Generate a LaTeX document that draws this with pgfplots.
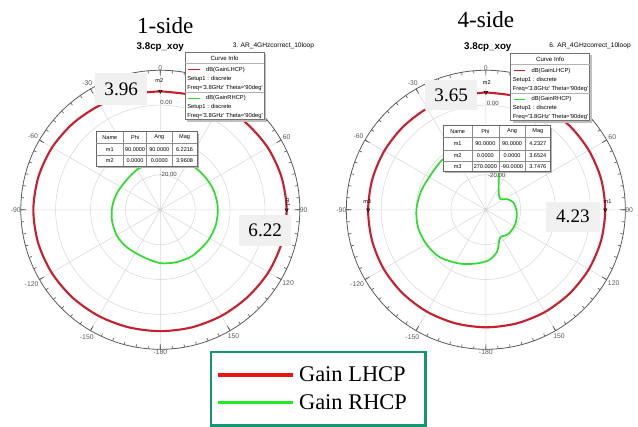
\documentclass[border=0pt]{standalone}
\usepackage{pgfplots}
\pgfplotsset{compat=1.18}
\usepgfplotslibrary{polar}
\usepackage{fontspec}
\setmainfont{Liberation Serif}
\newfontfamily\arial{Liberation Sans}
\newcommand\hf[1]{\arial\fontsize{#1}{#1}\selectfont}
\definecolor{hfssred}{RGB}{200,30,45}
\definecolor{hfssgreen}{RGB}{45,220,45}
\definecolor{legred}{RGB}{235,20,20}
\definecolor{leggreen}{RGB}{35,235,35}
\definecolor{legborder}{RGB}{20,150,115}
\definecolor{gridgray}{RGB}{215,215,215}
\definecolor{ringgray}{RGB}{90,90,90}
\definecolor{boxgray}{RGB}{240,240,240}
\pgfplotsset{hfss/.style={
  scale only axis, width=211.5pt, height=211.5pt,
  xmin=0, xmax=360, ymin=0, ymax=40,
  xtick={0,30,...,330},
  xticklabels={90,60,{},0,-30,-60,-90,-120,-150,-180,150,120},
  minor xtick={0,5,...,355},
  ytick={10,20,30}, yticklabels={},
  every y tick/.append style={draw=none},
  y axis line style={draw=none},
  grid=major,
  major grid style={gridgray, line width=0.4pt},
  axis line style={ringgray, line width=0.6pt},
  tick style={ringgray, line width=0.5pt},
  tick align=outside,
  major tick length=4pt, minor tick length=2.2pt,
  xticklabel style={font=\hf{5.2}, text=black!65, inner sep=3.8pt},
  x filter/.expression={90-x}, y filter/.expression={y+30},
}}
\newcommand\curveinfo{%
 \fill[black!25] (189,55) rectangle (269,123);
 \filldraw[fill=white, draw=black!55, line width=0.4pt] (187,53) rectangle (267,121);
 \node[font=\hf{4.6}] at (227,59) {Curve Info};
 \draw[black!30, line width=0.3pt] (187,64) -- (267,64);
 \draw[hfssred, line width=0.9pt] (190,70.5) -- (202,70.5);
 \node[font=\hf{4.4}, anchor=west] at (208,70.5) {dB(GainLHCP)};
 \node[font=\hf{4.4}, anchor=west] at (189,79.5) {Setup1 : discrete};
 \node[font=\hf{4.4}, anchor=west] at (189,88.5) {Freq=\textquotesingle 3.8GHz\textquotesingle{} Theta=\textquotesingle 90deg\textquotesingle};
 \draw[black!30, line width=0.3pt] (187,93.5) -- (267,93.5);
 \draw[hfssgreen, line width=0.9pt] (190,99.5) -- (202,99.5);
 \node[font=\hf{4.4}, anchor=west] at (208,99.5) {dB(GainRHCP)};
 \node[font=\hf{4.4}, anchor=west] at (189,108) {Setup1 : discrete};
 \node[font=\hf{4.4}, anchor=west] at (189,117) {Freq=\textquotesingle 3.8GHz\textquotesingle{} Theta=\textquotesingle 90deg\textquotesingle};
}
\begin{document}
\begin{tikzpicture}
\begin{scope}[x=0.75pt,y=-0.75pt]
\path[use as bounding box] (0,0) rectangle (638,416);
\end{scope}

% ---------- 1-side ----------
\begin{polaraxis}[hfss, at={(121.5pt,-159pt)}, anchor=center]
\addplot[hfssred, line width=1.6pt, smooth] coordinates {
(0,3.96)(15,4.1)(30,4.5)(45,5.0)(60,5.6)(75,6.0)(90,6.22)(105,6.1)(120,5.8)(135,5.4)(150,5.1)(165,4.9)(180,4.8)(195,4.9)(210,5.2)(225,5.6)(240,6.0)(255,6.3)(270,6.4)(285,6.2)(300,5.8)(315,5.2)(330,4.6)(345,4.2)(360,3.96)};
\addplot[hfssgreen, line width=1.3pt, smooth] coordinates {
(0,-15.5)(20,-15.0)(40,-14.3)(58,-14.0)(72,-13.7)(88,-13.5)(105,-13.5)(123,-13.7)(145,-13.9)(163,-14.3)(180,-14.7)(199.5,-15.6)(221.6,-15.6)(239,-15.5)(257,-15.8)(274.3,-16.2)(291.3,-16.7)(312,-17.1)(329.5,-16.7)(338.7,-16.7)(360,-15.5)};
\addplot[only marks, mark=triangle, mark size=1.5pt, mark options={rotate=180, black, line width=0.4pt}] coordinates {(0,3.9608)(90,6.2216)};
\end{polaraxis}

% ---------- 4-side ----------
\begin{polaraxis}[hfss, at={(368.25pt,-159pt)}, anchor=center]
\addplot[hfssred, line width=1.6pt, smooth] coordinates {
(0,3.65)(15,3.7)(30,3.85)(45,4.0)(60,4.1)(75,4.2)(90,4.23)(105,4.2)(120,4.1)(135,3.95)(150,3.85)(165,3.75)(180,3.7)(195,3.7)(210,3.75)(225,3.8)(240,3.85)(255,3.8)(270,3.75)(285,3.7)(300,3.65)(315,3.6)(330,3.6)(345,3.6)(360,3.65)};
\addplot[hfssgreen, line width=1.3pt, smooth] coordinates {
(0,-14.4)(10,-15.8)(17.2,-17.5)(19.9,-19.1)(23.4,-20.7)(28.4,-22.3)(35.8,-23.7)(39.6,-24.2)(54,-24.8)(63.3,-23.2)(75.4,-21.8)(94.9,-21.1)(115.7,-20.6)(136.6,-20.5)(152,-21.1)(159.2,-19.6)(165.2,-17.5)(176.6,-15.5)(190.7,-14.3)(206.4,-12.8)(224.6,-11.0)(240.4,-10.3)(255.6,-9.9)(270.6,-10.1)(286.2,-10.7)(302.8,-11.3)(319.2,-11.0)(330,-11.8)(345,-13.0)(360,-14.4)};
\addplot[only marks, mark=triangle, mark size=1.5pt, mark options={rotate=180, black, line width=0.4pt}] coordinates {(0,3.6524)(90,4.2327)(270,3.7476)};
\end{polaraxis}

\begin{scope}[x=0.75pt,y=-0.75pt, every node/.style={inner sep=0pt}]
% titles
\node[font=\fontsize{17.5}{20}\selectfont] at (167,26) {1-side};
\node[font=\fontsize{17.5}{20}\selectfont] at (491,20) {4-side};
\node[font=\hf{7.4}\bfseries] at (162,48) {3.8cp\_xoy};
\node[font=\hf{7.4}\bfseries] at (493,48) {3.8cp\_xoy};
\begin{scope}
\clip (0,0) rectangle (318,416);
\node[font=\hf{5}, anchor=west] at (235,46) {3. AR\_4GHzcorrect\_10loop};
\end{scope}
\node[font=\hf{5}, anchor=west] at (555,46) {6. AR\_4GHzcorrect\_10loop};
% radial labels
\node[font=\hf{4.6}, text=black!75] at (168,104) {0.00};
\node[font=\hf{4.6}, text=black!75] at (170,176) {-20.00};
\node[font=\hf{4.6}, text=black!75] at (498,105) {0.00};
\node[font=\hf{4.6}, text=black!75] at (502,177) {-20.00};
% marker names
\node[font=\hf{4.2}] at (161,81) {m2};
\node[font=\hf{4.2}, rotate=-90] at (291,205) {m1};
\node[font=\hf{4.2}] at (492,83) {m2};
\node[font=\hf{4.2}] at (614,204) {m1};
\node[font=\hf{4.2}] at (371,204) {m3};
% annotation boxes
\node[fill=boxgray, minimum width=39.75pt, minimum height=24pt, font=\fontsize{14.5}{16}\selectfont] at (122.5,90) {3.96};
\node[fill=boxgray, minimum width=39pt, minimum height=24pt, font=\fontsize{14.5}{16}\selectfont] at (268,233) {6.22};
\node[fill=boxgray, minimum width=39pt, minimum height=22.5pt, font=\fontsize{14.5}{16}\selectfont] at (456,96) {3.65};
\node[fill=boxgray, minimum width=40.5pt, minimum height=22.5pt, font=\fontsize{14.5}{16}\selectfont] at (579,219) {4.23};
% curve info boxes
\curveinfo
\begin{scope}[shift={(329,1)}]\curveinfo\end{scope}
% marker table left
\fill[black!30] (99,135) rectangle (201,170);
\filldraw[fill=white, draw=black!60, line width=0.4pt] (97,133) rectangle (199,168);
\draw[black!45, line width=0.3pt] (125,133)--(125,168) (148,133)--(148,168) (174,133)--(174,168) (97,145)--(199,145) (97,157)--(199,157);
\begin{scope}[every node/.append style={font=\hf{4.2}}]
\node at (111,139) {Name}; \node at (136.5,139) {Phi}; \node at (161,139) {Ang}; \node at (186.5,139) {Mag};
\node at (111,151) {m1}; \node at (136.5,151) {90.0000}; \node at (161,151) {90.0000}; \node at (186.5,151) {6.2216};
\node at (111,162.5) {m2}; \node at (136.5,162.5) {0.0000}; \node at (161,162.5) {0.0000}; \node at (186.5,162.5) {3.9608};
\end{scope}
% marker table right
\fill[black!30] (450,129) rectangle (558,175);
\filldraw[fill=white, draw=black!60, line width=0.4pt] (448,127) rectangle (556,173);
\draw[black!45, line width=0.3pt] (477,127)--(477,173) (504,127)--(504,173) (531,127)--(531,173) (448,139)--(556,139) (448,152)--(556,152) (448,163)--(556,163);
\begin{scope}[every node/.append style={font=\hf{4.2}}]
\node at (462.5,133) {Name}; \node at (490.5,133) {Phi}; \node at (517.5,133) {Ang}; \node at (543.5,133) {Mag};
\node at (462.5,145.5) {m1}; \node at (490.5,145.5) {90.0000}; \node at (517.5,145.5) {90.0000}; \node at (543.5,145.5) {4.2327};
\node at (462.5,157.5) {m2}; \node at (490.5,157.5) {0.0000}; \node at (517.5,157.5) {0.0000}; \node at (543.5,157.5) {3.6524};
\node at (462.5,168) {m3}; \node at (490.5,168) {270.0000}; \node at (517.5,168) {-90.0000}; \node at (543.5,168) {3.7476};
\end{scope}
% legend
\draw[legborder, line width=1.6pt] (213,356) rectangle (430,430);
\draw[legred, line width=2.4pt] (220,379) -- (296,379);
\node[anchor=west, font=\fontsize{17}{20}\selectfont] at (302,378) {Gain LHCP};
\draw[leggreen, line width=2.4pt] (220,407) -- (296,407);
\node[anchor=west, font=\fontsize{17}{20}\selectfont] at (302,406) {Gain RHCP};
\end{scope}
\end{tikzpicture}
\end{document}
